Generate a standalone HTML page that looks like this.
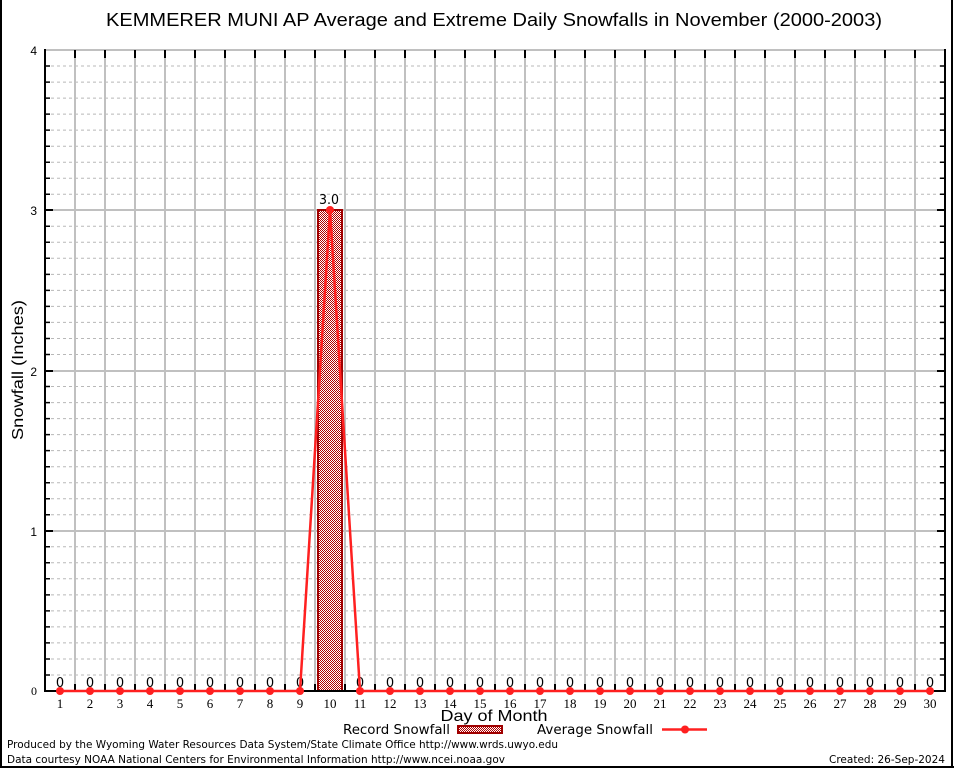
<!DOCTYPE html>
<html><head><meta charset="utf-8"><style>
html,body{margin:0;padding:0;background:#fff;}
svg{display:block;}
</style></head><body>
<svg width="954" height="768" viewBox="0 0 954 768" xmlns="http://www.w3.org/2000/svg" font-family="'Liberation Sans', 'DejaVu Sans', sans-serif">
<defs>
<pattern id="chk" x="0" y="0" width="2" height="2" patternUnits="userSpaceOnUse">
<rect width="2" height="2" fill="#fff" shape-rendering="crispEdges"/>
<rect x="0" y="0" width="1" height="1" fill="#b00000" shape-rendering="crispEdges"/>
<rect x="1" y="1" width="1" height="1" fill="#b00000" shape-rendering="crispEdges"/>
</pattern>
</defs>
<rect width="954" height="768" fill="#fff"/>
<line x1="1" y1="0" x2="1" y2="768" stroke="#000" stroke-width="2"/>
<line x1="952" y1="0" x2="952" y2="768" stroke="#000" stroke-width="2"/>
<line x1="0" y1="767" x2="954" y2="767" stroke="#000" stroke-width="2"/>

<text x="494" y="26" font-size="18" text-anchor="middle" textLength="776" lengthAdjust="spacingAndGlyphs" fill="#000">KEMMERER MUNI AP Average and Extreme Daily Snowfalls in November (2000-2003)</text>

<g stroke="#b8b8b8" stroke-width="1" stroke-dasharray="3,3">
<line x1="45" y1="66.0" x2="945" y2="66.0"/><line x1="45" y1="82.1" x2="945" y2="82.1"/><line x1="45" y1="98.1" x2="945" y2="98.1"/><line x1="45" y1="114.1" x2="945" y2="114.1"/><line x1="45" y1="130.1" x2="945" y2="130.1"/><line x1="45" y1="146.2" x2="945" y2="146.2"/><line x1="45" y1="162.2" x2="945" y2="162.2"/><line x1="45" y1="178.2" x2="945" y2="178.2"/><line x1="45" y1="194.2" x2="945" y2="194.2"/>
<line x1="45" y1="226.3" x2="945" y2="226.3"/><line x1="45" y1="242.3" x2="945" y2="242.3"/><line x1="45" y1="258.3" x2="945" y2="258.3"/><line x1="45" y1="274.4" x2="945" y2="274.4"/><line x1="45" y1="290.4" x2="945" y2="290.4"/><line x1="45" y1="306.4" x2="945" y2="306.4"/><line x1="45" y1="322.4" x2="945" y2="322.4"/><line x1="45" y1="338.5" x2="945" y2="338.5"/><line x1="45" y1="354.5" x2="945" y2="354.5"/>
<line x1="45" y1="386.5" x2="945" y2="386.5"/><line x1="45" y1="402.6" x2="945" y2="402.6"/><line x1="45" y1="418.6" x2="945" y2="418.6"/><line x1="45" y1="434.6" x2="945" y2="434.6"/><line x1="45" y1="450.6" x2="945" y2="450.6"/><line x1="45" y1="466.7" x2="945" y2="466.7"/><line x1="45" y1="482.7" x2="945" y2="482.7"/><line x1="45" y1="498.7" x2="945" y2="498.7"/><line x1="45" y1="514.7" x2="945" y2="514.7"/>
<line x1="45" y1="546.8" x2="945" y2="546.8"/><line x1="45" y1="562.8" x2="945" y2="562.8"/><line x1="45" y1="578.8" x2="945" y2="578.8"/><line x1="45" y1="594.9" x2="945" y2="594.9"/><line x1="45" y1="610.9" x2="945" y2="610.9"/><line x1="45" y1="626.9" x2="945" y2="626.9"/><line x1="45" y1="642.9" x2="945" y2="642.9"/><line x1="45" y1="659.0" x2="945" y2="659.0"/><line x1="45" y1="675.0" x2="945" y2="675.0"/>
</g>
<g stroke="#c0c0c0" stroke-width="2">
<line x1="45" y1="50" x2="945" y2="50"/>
<line x1="45" y1="210" x2="945" y2="210"/>
<line x1="45" y1="371" x2="945" y2="371"/>
<line x1="45" y1="531" x2="945" y2="531"/>
</g>
<g stroke="#c0c0c0" stroke-width="2">
<line x1="75" y1="50" x2="75" y2="691"/><line x1="105" y1="50" x2="105" y2="691"/><line x1="135" y1="50" x2="135" y2="691"/><line x1="165" y1="50" x2="165" y2="691"/><line x1="195" y1="50" x2="195" y2="691"/><line x1="225" y1="50" x2="225" y2="691"/><line x1="255" y1="50" x2="255" y2="691"/><line x1="285" y1="50" x2="285" y2="691"/><line x1="315" y1="50" x2="315" y2="691"/><line x1="345" y1="50" x2="345" y2="691"/><line x1="375" y1="50" x2="375" y2="691"/><line x1="405" y1="50" x2="405" y2="691"/><line x1="435" y1="50" x2="435" y2="691"/><line x1="465" y1="50" x2="465" y2="691"/><line x1="495" y1="50" x2="495" y2="691"/><line x1="525" y1="50" x2="525" y2="691"/><line x1="555" y1="50" x2="555" y2="691"/><line x1="585" y1="50" x2="585" y2="691"/><line x1="615" y1="50" x2="615" y2="691"/><line x1="645" y1="50" x2="645" y2="691"/><line x1="675" y1="50" x2="675" y2="691"/><line x1="705" y1="50" x2="705" y2="691"/><line x1="735" y1="50" x2="735" y2="691"/><line x1="765" y1="50" x2="765" y2="691"/><line x1="795" y1="50" x2="795" y2="691"/><line x1="825" y1="50" x2="825" y2="691"/><line x1="855" y1="50" x2="855" y2="691"/><line x1="885" y1="50" x2="885" y2="691"/><line x1="915" y1="50" x2="915" y2="691"/>
</g>

<rect x="318" y="210" width="24" height="481" fill="url(#chk)" stroke="#a00000" stroke-width="2"/>

<line x1="45" y1="49" x2="45" y2="692" stroke="#000" stroke-width="2"/>
<line x1="945" y1="49" x2="945" y2="692" stroke="#000" stroke-width="2"/>
<line x1="44" y1="691" x2="946" y2="691" stroke="#000" stroke-width="2"/>

<g stroke="#000" stroke-width="2">
<path d="M75 50v8M105 50v8M135 50v8M165 50v8M195 50v8M225 50v8M255 50v8M285 50v8M315 50v8M345 50v8M375 50v8M405 50v8M435 50v8M465 50v8M495 50v8M525 50v8M555 50v8M585 50v8M615 50v8M645 50v8M675 50v8M705 50v8M735 50v8M765 50v8M795 50v8M825 50v8M855 50v8M885 50v8M915 50v8"/>
<path d="M75 691v-7M105 691v-7M135 691v-7M165 691v-7M195 691v-7M225 691v-7M255 691v-7M285 691v-7M315 691v-7M345 691v-7M375 691v-7M405 691v-7M435 691v-7M465 691v-7M495 691v-7M525 691v-7M555 691v-7M585 691v-7M615 691v-7M645 691v-7M675 691v-7M705 691v-7M735 691v-7M765 691v-7M795 691v-7M825 691v-7M855 691v-7M885 691v-7M915 691v-7"/>
<path d="M45 210h8M45 371h8M45 531h8M945 210h-8M945 371h-8M945 531h-8"/>
</g>
<g stroke="#000" stroke-width="1.5">
<path d="M45 66h5M45 82.1h5M45 98.1h5M45 114.1h5M45 130.1h5M45 146.2h5M45 162.2h5M45 178.2h5M45 194.2h5M45 226.3h5M45 242.3h5M45 258.3h5M45 274.4h5M45 290.4h5M45 306.4h5M45 322.4h5M45 338.5h5M45 354.5h5M45 386.5h5M45 402.6h5M45 418.6h5M45 434.6h5M45 450.6h5M45 466.7h5M45 482.7h5M45 498.7h5M45 514.7h5M45 546.8h5M45 562.8h5M45 578.8h5M45 594.9h5M45 610.9h5M45 626.9h5M45 642.9h5M45 659h5M45 675h5"/>
<path d="M945 66h-5M945 82.1h-5M945 98.1h-5M945 114.1h-5M945 130.1h-5M945 146.2h-5M945 162.2h-5M945 178.2h-5M945 194.2h-5M945 226.3h-5M945 242.3h-5M945 258.3h-5M945 274.4h-5M945 290.4h-5M945 306.4h-5M945 322.4h-5M945 338.5h-5M945 354.5h-5M945 386.5h-5M945 402.6h-5M945 418.6h-5M945 434.6h-5M945 450.6h-5M945 466.7h-5M945 482.7h-5M945 498.7h-5M945 514.7h-5M945 546.8h-5M945 562.8h-5M945 578.8h-5M945 594.9h-5M945 610.9h-5M945 626.9h-5M945 642.9h-5M945 659h-5M945 675h-5"/>
</g>

<g font-size="12" text-anchor="end" fill="#000">
<text x="37" y="55">4</text>
<text x="37" y="215">3</text>
<text x="37" y="376">2</text>
<text x="37" y="536">1</text>
<text x="37" y="695" font-family="'Liberation Serif', serif">0</text>
</g>
<text transform="translate(23,370) rotate(-90)" font-size="16" text-anchor="middle" textLength="140" lengthAdjust="spacingAndGlyphs">Snowfall (Inches)</text>

<g font-family="'Liberation Serif', serif" font-size="13" text-anchor="middle" fill="#000">
<text x="60" y="708">1</text><text x="90" y="708">2</text><text x="120" y="708">3</text><text x="150" y="708">4</text><text x="180" y="708">5</text><text x="210" y="708">6</text><text x="240" y="708">7</text><text x="270" y="708">8</text><text x="300" y="708">9</text><text x="330" y="708">10</text><text x="360" y="708">11</text><text x="390" y="708">12</text><text x="420" y="708">13</text><text x="450" y="708">14</text><text x="480" y="708">15</text><text x="510" y="708">16</text><text x="540" y="708">17</text><text x="570" y="708">18</text><text x="600" y="708">19</text><text x="630" y="708">20</text><text x="660" y="708">21</text><text x="690" y="708">22</text><text x="720" y="708">23</text><text x="750" y="708">24</text><text x="780" y="708">25</text><text x="810" y="708">26</text><text x="840" y="708">27</text><text x="870" y="708">28</text><text x="900" y="708">29</text><text x="930" y="708">30</text>
</g>
<text x="494" y="721" font-size="16" text-anchor="middle" textLength="107" lengthAdjust="spacingAndGlyphs">Day of Month</text>

<g font-family="'DejaVu Sans', sans-serif" font-size="13" text-anchor="middle" fill="#000">
<text x="60" y="687">0</text><text x="90" y="687">0</text><text x="120" y="687">0</text><text x="150" y="687">0</text><text x="180" y="687">0</text><text x="210" y="687">0</text><text x="240" y="687">0</text><text x="270" y="687">0</text><text x="300" y="687">0</text><text x="360" y="687">0</text><text x="390" y="687">0</text><text x="420" y="687">0</text><text x="450" y="687">0</text><text x="480" y="687">0</text><text x="510" y="687">0</text><text x="540" y="687">0</text><text x="570" y="687">0</text><text x="600" y="687">0</text><text x="630" y="687">0</text><text x="660" y="687">0</text><text x="690" y="687">0</text><text x="720" y="687">0</text><text x="750" y="687">0</text><text x="780" y="687">0</text><text x="810" y="687">0</text><text x="840" y="687">0</text><text x="870" y="687">0</text><text x="900" y="687">0</text><text x="930" y="687">0</text>
<text x="329" y="204" textLength="20" lengthAdjust="spacingAndGlyphs">3.0</text>
</g>

<polyline points="60,691 300,691 330,210 360,691 930,691" fill="none" stroke="#ff2020" stroke-width="2.5"/>
<g fill="#ff2020">
<circle cx="60" cy="691" r="4"/><circle cx="90" cy="691" r="4"/><circle cx="120" cy="691" r="4"/><circle cx="150" cy="691" r="4"/><circle cx="180" cy="691" r="4"/><circle cx="210" cy="691" r="4"/><circle cx="240" cy="691" r="4"/><circle cx="270" cy="691" r="4"/><circle cx="300" cy="691" r="4"/><circle cx="330" cy="210" r="4"/><circle cx="360" cy="691" r="4"/><circle cx="390" cy="691" r="4"/><circle cx="420" cy="691" r="4"/><circle cx="450" cy="691" r="4"/><circle cx="480" cy="691" r="4"/><circle cx="510" cy="691" r="4"/><circle cx="540" cy="691" r="4"/><circle cx="570" cy="691" r="4"/><circle cx="600" cy="691" r="4"/><circle cx="630" cy="691" r="4"/><circle cx="660" cy="691" r="4"/><circle cx="690" cy="691" r="4"/><circle cx="720" cy="691" r="4"/><circle cx="750" cy="691" r="4"/><circle cx="780" cy="691" r="4"/><circle cx="810" cy="691" r="4"/><circle cx="840" cy="691" r="4"/><circle cx="870" cy="691" r="4"/><circle cx="900" cy="691" r="4"/><circle cx="930" cy="691" r="4"/>
</g>

<g font-family="'DejaVu Sans', sans-serif" font-size="13" fill="#000">
<text x="343" y="734" textLength="107" lengthAdjust="spacingAndGlyphs">Record Snowfall</text>
<text x="537" y="734" textLength="116" lengthAdjust="spacingAndGlyphs">Average Snowfall</text>
</g>
<rect x="458" y="726" width="44" height="7" fill="url(#chk)" stroke="#a00000" stroke-width="2"/>
<line x1="662" y1="729.5" x2="707" y2="729.5" stroke="#ff2020" stroke-width="2.5"/>
<circle cx="685" cy="729.5" r="4" fill="#ff2020"/>

<g font-family="'DejaVu Sans', sans-serif" font-size="11" fill="#000">
<text x="7" y="748" textLength="551" lengthAdjust="spacingAndGlyphs">Produced by the Wyoming Water Resources Data System/State Climate Office http://www.wrds.uwyo.edu</text>
<text x="7" y="763" textLength="498" lengthAdjust="spacingAndGlyphs">Data courtesy NOAA National Centers for Environmental Information http://www.ncei.noaa.gov</text>
<text x="945" y="763" text-anchor="end" textLength="116" lengthAdjust="spacingAndGlyphs">Created: 26-Sep-2024</text>
</g>
</svg>
</body></html>
